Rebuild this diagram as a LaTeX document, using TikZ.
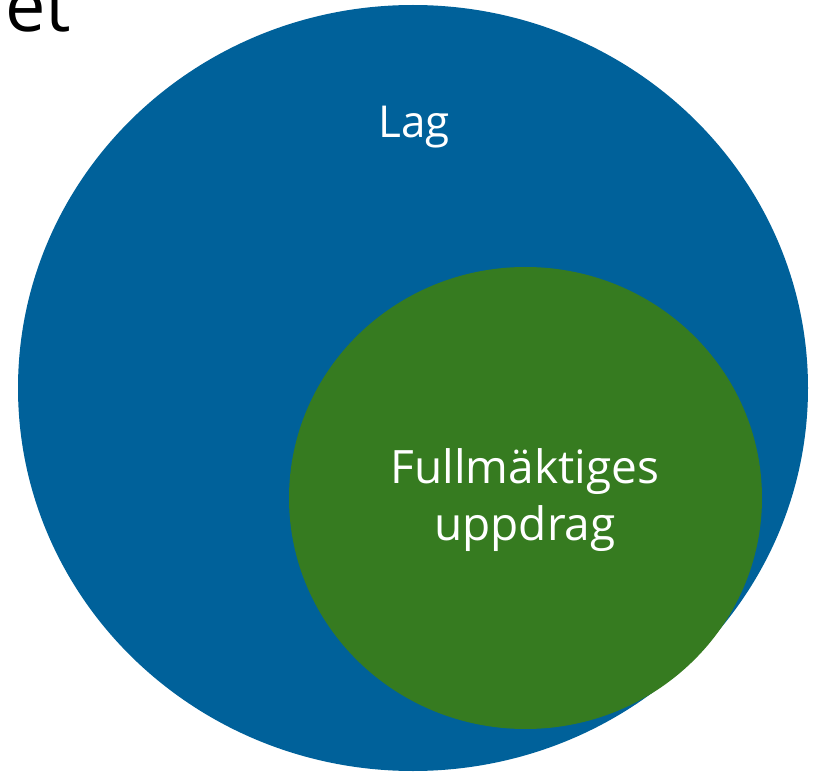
\documentclass[tikz,border=0pt]{standalone}
\usepackage{fontspec}
\setmainfont{Open Sans}
\definecolor{lagblue}{RGB}{0,97,154}
\definecolor{fmgreen}{RGB}{54,123,32}
\begin{document}
\begin{tikzpicture}[x=1pt,y=-1pt,
  lbl/.style={text=white,font=\fontsize{44}{52}\selectfont,inner sep=0pt,anchor=base},
  fmlbl/.style={lbl,font=\fontsize{46}{52}\selectfont}]
\useasboundingbox (0,0) rectangle (815,773);
\path[fill=lagblue] (413,388) ellipse [x radius=395, y radius=383];
\coordinate (lagc) at (413,388);
\path[fill=fmgreen] (525.5,498) ellipse [x radius=236.5, y radius=231];
\coordinate (fmc) at (525.5,498);
\node[lbl] (lag) at (414,138) {Lag};
\node[fmlbl] (fm1) at (525,483) {Fullmäktiges};
\node[fmlbl] (fm2) at (525,540) {uppdrag};
\node[inner sep=0pt,anchor=base west,font=\fontsize{72}{80}\selectfont] (et) at (5,32) {et};
\end{tikzpicture}
\end{document}
